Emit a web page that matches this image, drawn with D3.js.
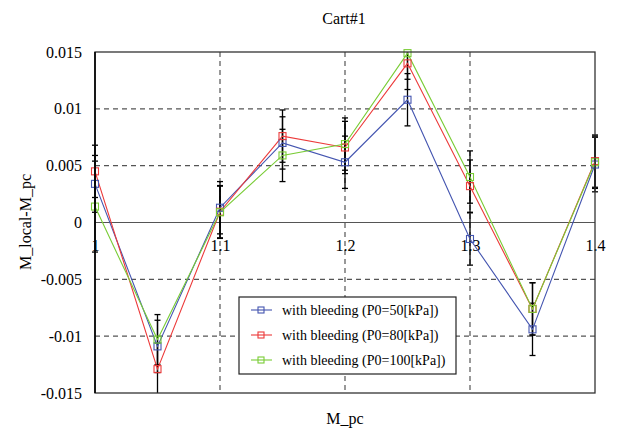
<!DOCTYPE html>
<html>
<head>
<meta charset="utf-8">
<script src="https://cdn.jsdelivr.net/npm/d3@7"></script>
<style>
  body { margin: 0; background: #fff; }
  svg text { font-family: "Liberation Serif", "Times New Roman", Times, "DejaVu Serif", serif !important; }
</style>
</head>
<body>
<div id="chart"></div>
<script>
// data
var mpc = [1.0, 1.05, 1.1, 1.15, 1.2, 1.25, 1.3, 1.35, 1.4];
var p50  = [0.0034, -0.0109, 0.0013, 0.0070, 0.0053, 0.0108, -0.00145, -0.0094, 0.0051];
var p80  = [0.0045, -0.0129, 0.00095, 0.0076, 0.0066, 0.0140, 0.0032, -0.0076, 0.0054];
var p100 = [0.0014, -0.0103, 0.0009, 0.0059, 0.0069, 0.0149, 0.0040, -0.0076, 0.0053];
var err50  = [0.0025, 0.0023, 0.0023, 0.0023, 0.0023, 0.0023, 0.0023, 0.0023, 0.0024];
var err80  = [0.0023, 0.0023, 0.0023, 0.0023, 0.0023, 0.0023, 0.0023, 0.0023, 0.0023];
var err100 = [0.0040, 0.0022, 0.0023, 0.0023, 0.0023, 0.0023, 0.0023, 0.0023, 0.0023];
var seriesNames = ['with bleeding (P0=50[kPa])', 'with bleeding (P0=80[kPa])', 'with bleeding (P0=100[kPa])'];
var xTicks = [1.0, 1.1, 1.2, 1.3, 1.4];
var xTickLabels = ['1', '1.1', '1.2', '1.3', '1.4'];
var yTicks = [0.015, 0.01, 0.005, 0, -0.005, -0.01, -0.015];
var yTickLabels = ['0.015', '0.01', '0.005', '0', '-0.005', '-0.01', '-0.015'];

var colors = ['#4455b0', '#ec3a3a', '#79cc35'];
var series = [
  {name: seriesNames[0], vals: p50,  err: err50,  color: colors[0]},
  {name: seriesNames[1], vals: p80,  err: err80,  color: colors[1]},
  {name: seriesNames[2], vals: p100, err: err100, color: colors[2]}
];

var W = 620, H = 430;
var margin = {top: 52, right: 25, bottom: 37, left: 95},
    width = W - margin.left - margin.right,
    height = H - margin.top - margin.bottom;
var serif = '"Liberation Serif", "Times New Roman", Times, "DejaVu Serif", serif';

var svg = d3.select('#chart').append('svg')
  .attr('width', W)
  .attr('height', H)
  .attr('font-family', serif);

svg.append('defs').append('clipPath')
  .attr('id', 'plotclip')
  .append('rect')
  .attr('x', -6).attr('y', 0)
  .attr('width', width + 12).attr('height', height);

var g = svg.append('g')
  .attr('transform', 'translate(' + margin.left + ',' + margin.top + ')');

var x = d3.scaleLinear().domain([1.0, 1.4]).range([0, width]);
var y = d3.scaleLinear().domain([-0.015, 0.015]).range([height, 0]);

// dashed grid
g.selectAll('.hgrid')
  .data(yTicks.filter(function(d) { return d !== 0 && Math.abs(d) < 0.015; }))
  .enter().append('line')
  .attr('x1', 0).attr('x2', width)
  .attr('y1', function(d) { return y(d); })
  .attr('y2', function(d) { return y(d); })
  .attr('stroke', '#555').attr('stroke-width', 1.2)
  .attr('stroke-dasharray', '5,4');

g.selectAll('.vgrid')
  .data(xTicks.slice(1, -1))
  .enter().append('line')
  .attr('y1', 0).attr('y2', height)
  .attr('x1', function(d) { return x(d); })
  .attr('x2', function(d) { return x(d); })
  .attr('stroke', '#555').attr('stroke-width', 1.2)
  .attr('stroke-dasharray', '5,4');

// zero line
g.append('line')
  .attr('x1', 0).attr('x2', width)
  .attr('y1', y(0)).attr('y2', y(0))
  .attr('stroke', '#555').attr('stroke-width', 1.2);

// y axis
var yAxis = d3.axisLeft(y)
  .tickValues(yTicks)
  .tickSize(0)
  .tickPadding(13)
  .tickFormat(function(d, i) { return yTickLabels[i]; });

g.append('g').call(yAxis)
  .attr('font-family', serif)
  .call(function(s) { s.select('.domain').remove(); })
  .selectAll('text')
  .style('font-size', '16px')
  .attr('fill', '#000');

// x axis on the zero line
var xAxis = d3.axisBottom(x)
  .tickValues(xTicks)
  .tickSize(0)
  .tickPadding(17)
  .tickFormat(function(d, i) { return xTickLabels[i]; });

g.append('g')
  .attr('transform', 'translate(0,' + y(0) + ')')
  .call(xAxis)
  .attr('font-family', serif)
  .call(function(s) { s.select('.domain').remove(); })
  .selectAll('text')
  .style('font-size', '16px')
  .attr('fill', '#000');

var plot = g.append('g').attr('clip-path', 'url(#plotclip)');

// error bars
var capW = 3;
series.forEach(function(s) {
  var eb = plot.append('g');
  mpc.forEach(function(m, i) {
    var lo = y(s.vals[i] - s.err[i]), hi = y(s.vals[i] + s.err[i]), cx = x(m);
    eb.append('line').attr('x1', cx).attr('x2', cx).attr('y1', lo).attr('y2', hi)
      .attr('stroke', '#000').attr('stroke-width', 1.3);
    eb.append('line').attr('x1', cx - capW).attr('x2', cx + capW).attr('y1', lo).attr('y2', lo)
      .attr('stroke', '#000').attr('stroke-width', 1.3);
    eb.append('line').attr('x1', cx - capW).attr('x2', cx + capW).attr('y1', hi).attr('y2', hi)
      .attr('stroke', '#000').attr('stroke-width', 1.3);
  });
});

// lines and markers
var line = d3.line()
  .x(function(d, i) { return x(mpc[i]); })
  .y(function(d) { return y(d); });

series.forEach(function(s) {
  plot.append('path')
    .datum(s.vals)
    .attr('d', line)
    .attr('fill', 'none')
    .attr('stroke', s.color)
    .attr('stroke-width', 1.1);

  g.selectAll(null)
    .data(s.vals)
    .enter().append('rect')
    .attr('x', function(d, i) { return x(mpc[i]) - 3.5; })
    .attr('y', function(d) { return y(d) - 3.5; })
    .attr('width', 7).attr('height', 7)
    .attr('fill', 'none')
    .attr('stroke', s.color)
    .attr('stroke-width', 1.1);
});

// frame
g.append('rect')
  .attr('x', 0).attr('y', 0)
  .attr('width', width).attr('height', height)
  .attr('fill', 'none')
  .attr('stroke', '#333').attr('stroke-width', 1.3);
g.append('line')
  .attr('x1', 0).attr('x2', 0).attr('y1', 0).attr('y2', height)
  .attr('stroke', '#000').attr('stroke-width', 1.6);

// legend
var legend = svg.append('g').attr('transform', 'translate(239,297)');
legend.append('rect')
  .attr('width', 217).attr('height', 77)
  .attr('fill', '#fff')
  .attr('stroke', '#222').attr('stroke-width', 1.2);

series.forEach(function(s, i) {
  var ly = 13 + i * 25;
  legend.append('line')
    .attr('x1', 12).attr('x2', 33).attr('y1', ly).attr('y2', ly)
    .attr('stroke', s.color).attr('stroke-width', 1.1);
  legend.append('rect')
    .attr('x', 19).attr('y', ly - 3).attr('width', 6).attr('height', 6)
    .attr('fill', 'none').attr('stroke', s.color).attr('stroke-width', 1.1);
  legend.append('text')
    .attr('x', 43).attr('y', ly + 5)
    .style('font-size', '14px')
    .text(s.name);
});

// titles
svg.append('text')
  .attr('x', 344).attr('y', 24)
  .attr('text-anchor', 'middle')
  .style('font-size', '16px')
  .text('Cart#1');

svg.append('text')
  .attr('x', 345).attr('y', 424)
  .attr('text-anchor', 'middle')
  .style('font-size', '16px')
  .text('M_pc');

svg.append('text')
  .attr('transform', 'translate(31,222) rotate(-90)')
  .attr('text-anchor', 'middle')
  .style('font-size', '16px')
  .text('M_local-M_pc');
</script>
</body>
</html>
